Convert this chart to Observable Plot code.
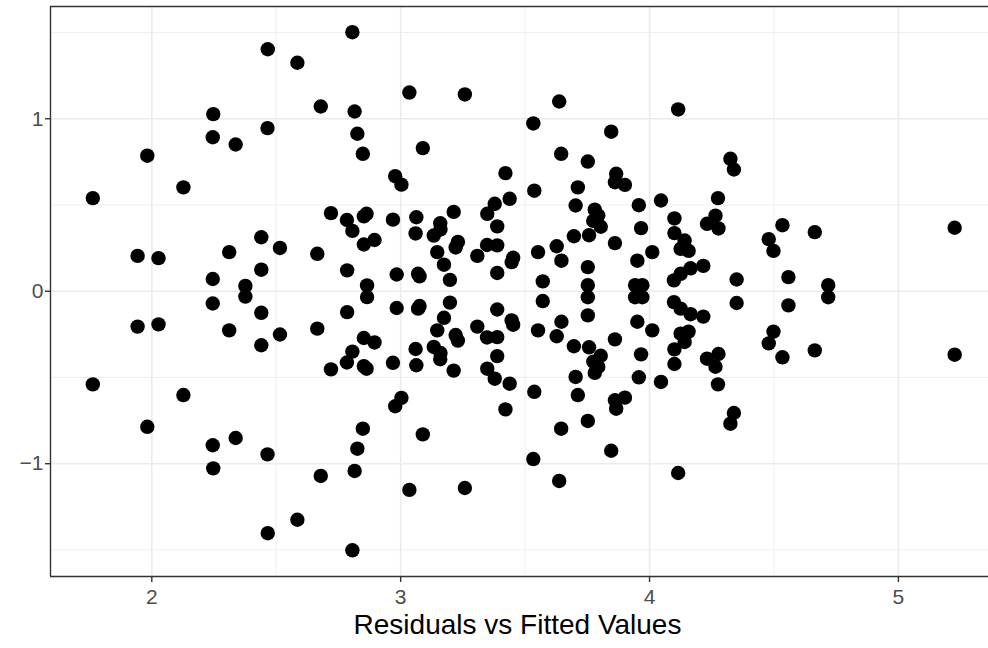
<!DOCTYPE html>
<html>
<head>
<meta charset="utf-8">
<script src="https://cdn.jsdelivr.net/npm/d3@7"></script>
<script src="https://cdn.jsdelivr.net/npm/@observablehq/plot@0.6"></script>
<style>
  html, body { margin: 0; padding: 0; background: #ffffff; }
  #chart svg { display: block; }
</style>
</head>
<body>
<div id="chart"></div>
<script>
// Fitted values (x)
const fitted = [
  1.763, 1.943, 1.982, 2.027, 2.127, 2.247, 2.245, 2.245, 2.311, 2.337,
  2.376, 2.440, 2.440, 2.466, 2.465, 2.515, 2.585, 2.665, 2.679, 2.720,
  2.784, 2.785, 2.806, 2.806, 2.815, 2.826, 2.848, 2.852, 2.863, 2.852,
  2.865, 2.895, 2.969, 2.978, 3.003, 2.984, 3.035, 3.063, 3.060, 3.070,
  3.076, 3.089, 3.133, 3.147, 3.159, 3.160, 3.174, 3.198, 3.213, 3.230,
  3.221, 3.258, 3.308, 3.347, 3.388, 3.348, 3.378, 3.388, 3.388, 3.421,
  3.438, 3.452, 3.446, 3.533, 3.537, 3.552, 3.571, 3.627, 3.637, 3.645,
  3.646, 3.696, 3.712, 3.703, 3.752, 3.757, 3.752, 3.752, 3.780, 3.794,
  3.774, 3.804, 3.846, 3.861, 3.866, 3.861, 3.901, 3.951, 3.957, 3.966,
  3.942, 3.971, 4.011, 4.046, 4.100, 4.100, 4.098, 4.115, 4.141, 4.125,
  4.157, 4.125, 4.165, 4.216, 4.231, 4.265, 4.277, 4.275, 4.325, 4.339,
  4.350, 4.479, 4.498, 4.534, 4.558, 4.664, 4.718, 5.226,
  1.763, 1.943, 1.982, 2.027, 2.127, 2.247, 2.245, 2.245, 2.311, 2.337,
  2.376, 2.440, 2.440, 2.466, 2.465, 2.515, 2.585, 2.665, 2.679, 2.720,
  2.784, 2.785, 2.806, 2.806, 2.815, 2.826, 2.848, 2.852, 2.863, 2.852,
  2.865, 2.895, 2.969, 2.978, 3.003, 2.984, 3.035, 3.063, 3.060, 3.070,
  3.076, 3.089, 3.133, 3.147, 3.159, 3.160, 3.174, 3.198, 3.213, 3.230,
  3.221, 3.258, 3.308, 3.347, 3.388, 3.348, 3.378, 3.388, 3.388, 3.421,
  3.438, 3.452, 3.446, 3.533, 3.537, 3.552, 3.571, 3.627, 3.637, 3.645,
  3.646, 3.696, 3.712, 3.703, 3.752, 3.757, 3.752, 3.752, 3.780, 3.794,
  3.774, 3.804, 3.846, 3.861, 3.866, 3.861, 3.901, 3.951, 3.957, 3.966,
  3.942, 3.971, 4.011, 4.046, 4.100, 4.100, 4.098, 4.115, 4.141, 4.125,
  4.157, 4.125, 4.165, 4.216, 4.231, 4.265, 4.277, 4.275, 4.325, 4.339,
  4.350, 4.479, 4.498, 4.534, 4.558, 4.664, 4.718, 5.226
];

// Residuals (y)
const residuals = [
  0.540, 0.205, 0.786, 0.192, 0.602, 1.027, 0.893, 0.071, 0.227, 0.851,
  0.031, 0.313, 0.125, 1.403, 0.946, 0.251, 1.325, 0.217, 1.071, 0.453,
  0.413, 0.121, 1.502, 0.350, 1.042, 0.913, 0.797, 0.434, 0.449, 0.271,
  0.034, 0.297, 0.415, 0.667, 0.618, 0.097, 1.152, 0.429, 0.335, 0.101,
  0.086, 0.830, 0.323, 0.227, 0.394, 0.358, 0.154, 0.066, 0.460, 0.286,
  0.254, 1.141, 0.205, 0.268, 0.266, 0.449, 0.507, 0.376, 0.106, 0.685,
  0.536, 0.194, 0.169, 0.973, 0.583, 0.227, 0.057, 0.261, 1.100, 0.797,
  0.177, 0.319, 0.602, 0.497, 0.752, 0.325, 0.140, 0.035, 0.473, 0.439,
  0.408, 0.374, 0.925, 0.279, 0.681, 0.632, 0.617, 0.177, 0.499, 0.366,
  0.035, 0.035, 0.227, 0.526, 0.422, 0.337, 0.063, 1.054, 0.294, 0.246,
  0.234, 0.101, 0.133, 0.147, 0.391, 0.438, 0.364, 0.540, 0.768, 0.706,
  0.068, 0.302, 0.234, 0.383, 0.082, 0.343, 0.035, 0.368,
  -0.540, -0.205, -0.786, -0.192, -0.602, -1.027, -0.893, -0.071, -0.227, -0.851,
  -0.031, -0.313, -0.125, -1.403, -0.946, -0.251, -1.325, -0.217, -1.071, -0.453,
  -0.413, -0.121, -1.502, -0.350, -1.042, -0.913, -0.797, -0.434, -0.449, -0.271,
  -0.034, -0.297, -0.415, -0.667, -0.618, -0.097, -1.152, -0.429, -0.335, -0.101,
  -0.086, -0.830, -0.323, -0.227, -0.394, -0.358, -0.154, -0.066, -0.460, -0.286,
  -0.254, -1.141, -0.205, -0.268, -0.266, -0.449, -0.507, -0.376, -0.106, -0.685,
  -0.536, -0.194, -0.169, -0.973, -0.583, -0.227, -0.057, -0.261, -1.100, -0.797,
  -0.177, -0.319, -0.602, -0.497, -0.752, -0.325, -0.140, -0.035, -0.473, -0.439,
  -0.408, -0.374, -0.925, -0.279, -0.681, -0.632, -0.617, -0.177, -0.499, -0.366,
  -0.035, -0.035, -0.227, -0.526, -0.422, -0.337, -0.063, -1.054, -0.294, -0.246,
  -0.234, -0.101, -0.133, -0.147, -0.391, -0.438, -0.364, -0.540, -0.768, -0.706,
  -0.068, -0.302, -0.234, -0.383, -0.082, -0.343, -0.035, -0.368
];

// Axis ticks and gridlines
const xTicks = [2, 3, 4, 5];
const xMinor = [2.5, 3.5, 4.5];
const yTicks = [-1, 0, 1];
const yMinor = [-1.5, -0.5, 0.5, 1.5];
const xDomain = [1.593, 5.362];
const yDomain = [-1.654, 1.651];
const xLabel = ["Residuals vs Fitted Values"];

const data = fitted.map((f, i) => ({fitted: f, residual: residuals[i]}));
const fmt = d => (d < 0 ? "\u2212" + Math.abs(d) : String(d));
const grid = "#EBEBEB";
const border = "#333333";

const chart = Plot.plot({
  width: 988,
  height: 648,
  marginLeft: 50,
  marginRight: 0,
  marginTop: 6,
  marginBottom: 72,
  style: {fontFamily: "'Liberation Sans', Arial, Helvetica, sans-serif", background: "#ffffff", color: "#333333"},
  x: {domain: xDomain},
  y: {domain: yDomain},
  marks: [
    Plot.ruleX(xMinor, {stroke: grid, strokeWidth: 0.8}),
    Plot.ruleY(yMinor, {stroke: grid, strokeWidth: 0.8}),
    Plot.ruleX(xTicks, {stroke: grid, strokeWidth: 1.6}),
    Plot.ruleY(yTicks, {stroke: grid, strokeWidth: 1.6}),
    Plot.dot(data, {x: "fitted", y: "residual", r: 7.2, fill: "#000000", stroke: null}),
    Plot.ruleX([xDomain[0]], {stroke: border, strokeWidth: 1.4}),
    Plot.ruleY([yDomain[0]], {stroke: border, strokeWidth: 1.4}),
    Plot.ruleY([yDomain[1]], {stroke: border, strokeWidth: 1.4}),
    Plot.axisX(xTicks, {tickSize: 6, tickPadding: 7, fontSize: 21, stroke: border, strokeWidth: 1.4, fill: "#4D4D4D", tickFormat: fmt, label: null}),
    Plot.axisY(yTicks, {tickSize: 5, tickPadding: 2, fontSize: 21, stroke: border, strokeWidth: 1.4, fill: "#4D4D4D", tickFormat: fmt, label: null}),
    Plot.text(xLabel, {frameAnchor: "bottom", lineAnchor: "middle", dy: 49, dx: -2, fontSize: 28, fill: "#000000"})
  ]
});
document.getElementById("chart").append(chart);
</script>
</body>
</html>
